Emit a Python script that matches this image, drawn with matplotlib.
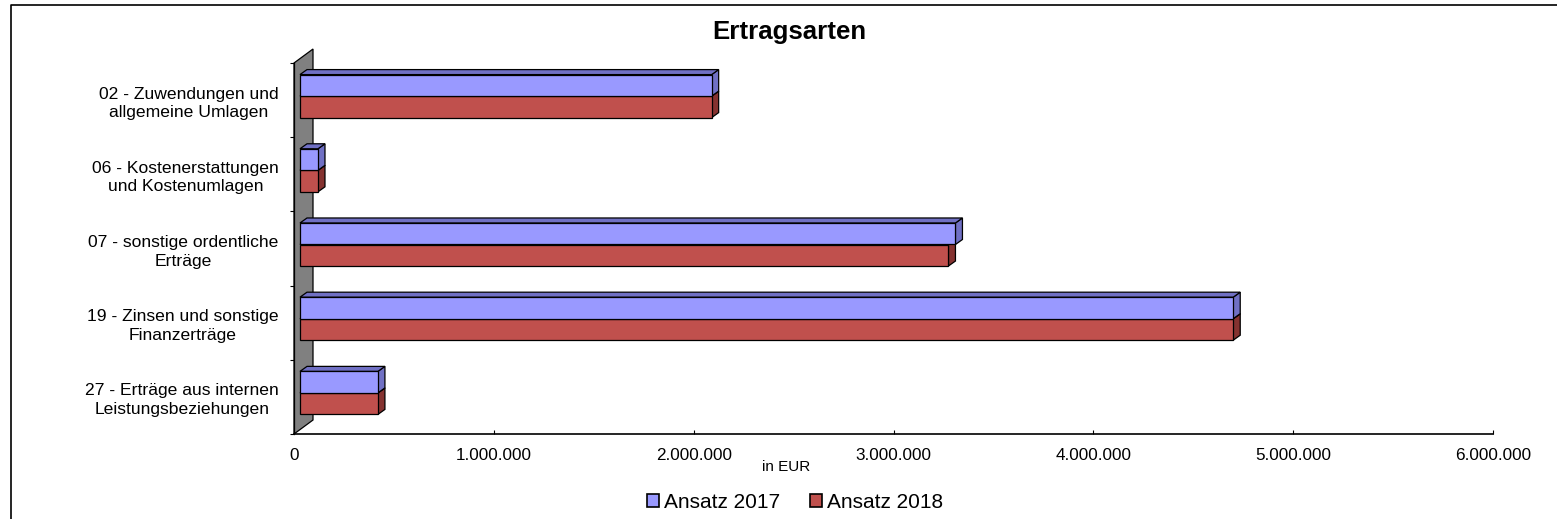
import matplotlib
matplotlib.use("Agg")
import matplotlib.pyplot as plt
from matplotlib.patches import Polygon, Patch
from matplotlib.lines import Line2D
from matplotlib.ticker import FuncFormatter, MultipleLocator
import matplotlib.transforms as mtransforms

plt.rcParams['font.family'] = ['Liberation Sans', 'DejaVu Sans']

# Ertragsarten, Ansatz 2017 / 2018 in EUR
kategorien = [
    "02 - Zuwendungen und\nallgemeine Umlagen",
    "06 - Kostenerstattungen\nund Kostenumlagen",
    "07 - sonstige ordentliche\nErträge",
    "19 - Zinsen und sonstige\nFinanzerträge",
    "27 - Erträge aus internen\nLeistungsbeziehungen",
]
ansatz_2017 = [2060000, 90000, 3280000, 4670000, 390000]
ansatz_2018 = [2060000, 90000, 3245000, 4670000, 390000]
serien = ["Ansatz 2017", "Ansatz 2018"]

W, H, DPI = 1557, 519, 100
fig = plt.figure(figsize=(W / DPI, H / DPI), dpi=DPI)

# plot area in pixels
x0_px, x1_px, top_px, bot_px = 294, 1493, 63, 434
ax = fig.add_axes([x0_px / W, (H - bot_px) / H, (x1_px - x0_px) / W, (bot_px - top_px) / H])
xmax = 6000000
ax.set_xlim(0, xmax)
ax.set_ylim(len(kategorien) - 0.5, -0.5)

ux = xmax / (x1_px - x0_px)          # data units per pixel (x)
uy = len(kategorien) / (bot_px - top_px)  # data units per pixel (y)

# 3d back wall
wall_dx, wall_dy = 19, 14
wall = Polygon([(0, 4.5), (0, -0.5), (wall_dx * ux, -0.5 - wall_dy * uy),
                (wall_dx * ux, 4.5 - wall_dy * uy)],
               closed=True, facecolor="#808080", edgecolor="black", lw=0.9,
               zorder=1, clip_on=False)
ax.add_patch(wall)

# bars sit a little into the depth
shift = mtransforms.ScaledTranslation(6 / DPI, 4 / DPI, fig.dpi_scale_trans)
bar_tr = ax.transData + shift

bar_h = 0.29
d_dx, d_dy = 7 * ux, 5 * uy
front = {"Ansatz 2017": "#9999FF", "Ansatz 2018": "#C0504D"}
side = {"Ansatz 2017": "#7070C4", "Ansatz 2018": "#853230"}

for i in range(len(kategorien)):
    y17 = i - bar_h / 2
    y18 = i + bar_h / 2
    for name, vals, yc, z in [("Ansatz 2018", ansatz_2018, y18, 3), ("Ansatz 2017", ansatz_2017, y17, 5)]:
        v = vals[i]
        ytop = yc - bar_h / 2
        ybot = yc + bar_h / 2
        # side face
        ax.add_patch(Polygon([(v, ytop), (v + d_dx, ytop - d_dy), (v + d_dx, ybot - d_dy), (v, ybot)],
                             closed=True, facecolor=side[name], edgecolor="black", lw=0.9,
                             transform=bar_tr, zorder=z))
        # top face
        ax.add_patch(Polygon([(0, ytop), (d_dx, ytop - d_dy), (v + d_dx, ytop - d_dy), (v, ytop)],
                             closed=True, facecolor=side[name], edgecolor="black", lw=0.9,
                             transform=bar_tr, zorder=z))
        ax.barh(yc, v, height=bar_h, color=front[name], edgecolor="black", lw=0.9,
                transform=bar_tr, zorder=z + 0.5)

for s in ["top", "right"]:
    ax.spines[s].set_visible(False)
ax.spines["left"].set_linewidth(0.9)
ax.spines["bottom"].set_linewidth(1.2)
ax.spines["bottom"].set_zorder(6)

ax.set_yticks(range(len(kategorien)))
ax.set_yticklabels(kategorien, fontsize=12.6, multialignment="center", linespacing=1.3)
ax.tick_params(axis="y", which="major", length=0, pad=11)
ax.yaxis.set_minor_locator(MultipleLocator(1, offset=0.5))
ax.tick_params(axis="y", which="minor", length=3, width=0.8, direction="out")

ax.xaxis.set_major_locator(MultipleLocator(1000000))
ax.xaxis.set_major_formatter(FuncFormatter(lambda x, p: f"{int(x):,}".replace(",", ".")))
ax.tick_params(axis="x", length=3, width=0.8, direction="in", pad=10, labelsize=12.3)

fig.text(786 / W, 1 - 467 / H, "in EUR", ha="center", va="center", fontsize=11)
fig.text(789 / W, 1 - 32 / H, "Ertragsarten", ha="center", va="center",
         fontsize=18.6, fontweight="bold")

handles = [Patch(facecolor=front[s], edgecolor="black", lw=1.2) for s in serien]
fig.legend(handles, serien, loc="center", bbox_to_anchor=(795 / W, 1 - 502 / H), ncol=2,
           frameon=False, fontsize=15, handlelength=0.58, handleheight=0.58,
           handletextpad=0.25, columnspacing=1.4, borderpad=0)

# chart frame (left and top edge)
fig.add_artist(Line2D([11 / W, 11 / W, 1.0], [0.0, 1 - 5 / H, 1 - 5 / H],
                      transform=fig.transFigure, color="black", lw=1.2))

fig.savefig("out.png", dpi=DPI, facecolor="white")
